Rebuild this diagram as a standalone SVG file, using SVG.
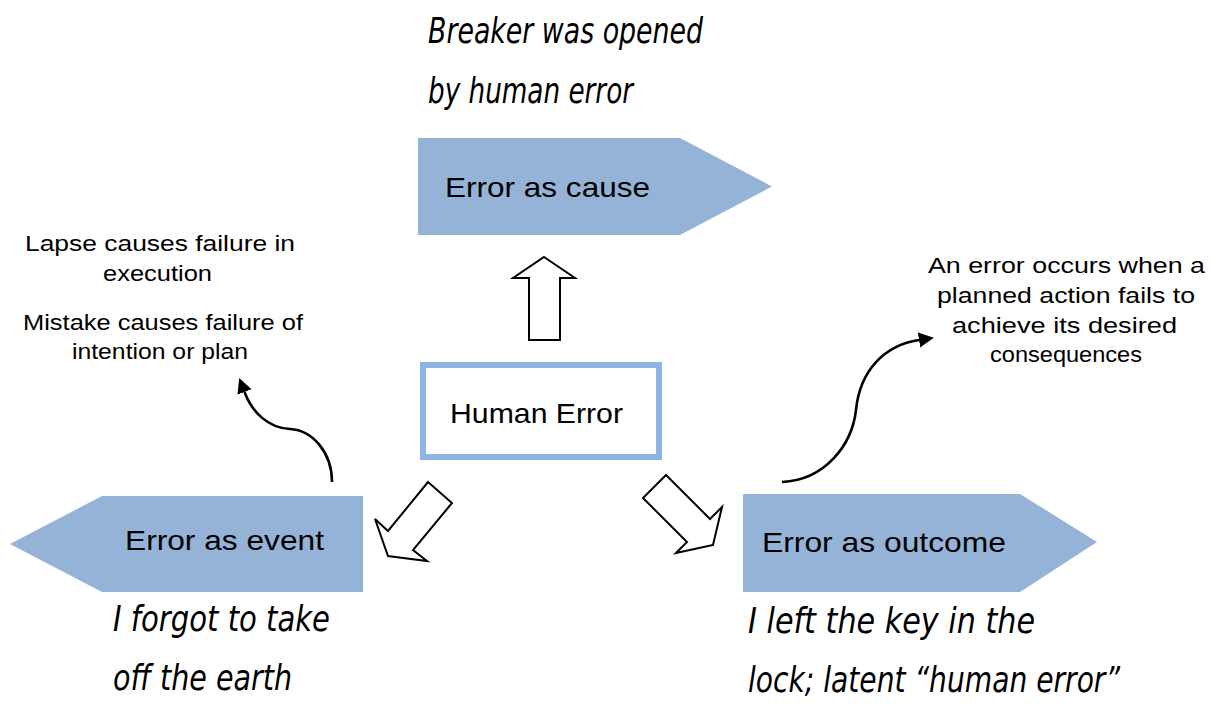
<svg xmlns="http://www.w3.org/2000/svg" width="1218" height="709" viewBox="0 0 1218 709">
  <style>
    .shape { fill: #95B3D7; stroke: none; }
    .label { font-family: "Liberation Sans", Arial, sans-serif; font-size: 28.5px; fill: #000; }
    .note { font-family: "Liberation Sans", Arial, sans-serif; font-size: 22px; fill: #000; }
    .hand { font-family: "DejaVu Sans", sans-serif; font-weight: 200; font-style: italic; font-size: 35px; fill: #000; }
    .block { fill: #fff; stroke: #000; stroke-width: 2; stroke-linejoin: miter; }
    .curve { fill: none; stroke: #000; stroke-width: 2.6; }
  </style>
  <defs>
    <marker id="head" markerUnits="userSpaceOnUse" markerWidth="16" markerHeight="16" refX="0" refY="7.5" orient="auto">
      <path d="M0,0 L15,7.5 L0,15 Z" fill="#000"/>
    </marker>
  </defs>
  <rect width="1218" height="709" fill="#fff"/>

  <!-- Central concept -->
  <g id="human-error">
    <rect x="423" y="365" width="236" height="92" fill="#fff" stroke="#8EB4E3" stroke-width="6"/>
    <text class="label" x="450" y="423" textLength="173" lengthAdjust="spacingAndGlyphs">Human Error</text>
  </g>

  <!-- Three perspectives -->
  <g id="error-as-cause">
    <polygon class="shape" points="418,138 680,138 772,186.5 680,235 418,235"/>
    <text class="label" x="445" y="197" textLength="205" lengthAdjust="spacingAndGlyphs">Error as cause</text>
  </g>
  <g id="error-as-event">
    <polygon class="shape" points="363,496 102,496 10,544 102,592 363,592"/>
    <text class="label" x="125" y="550" textLength="199" lengthAdjust="spacingAndGlyphs">Error as event</text>
  </g>
  <g id="error-as-outcome">
    <polygon class="shape" points="743,494 1020,494 1097,542 1020,592 743,592"/>
    <text class="label" x="762" y="552" textLength="244" lengthAdjust="spacingAndGlyphs">Error as outcome</text>
  </g>

  <!-- Explanatory notes -->
  <g id="note-lapse-mistake">
    <text class="note" x="25" y="251" textLength="270" lengthAdjust="spacingAndGlyphs">Lapse causes failure in</text>
    <text class="note" x="103" y="281" textLength="109" lengthAdjust="spacingAndGlyphs">execution</text>
    <text class="note" x="23" y="330" textLength="280" lengthAdjust="spacingAndGlyphs">Mistake causes failure of</text>
    <text class="note" x="72" y="359" textLength="176" lengthAdjust="spacingAndGlyphs">intention or plan</text>
  </g>
  <g id="note-definition">
    <text class="note" x="928" y="273" textLength="277" lengthAdjust="spacingAndGlyphs">An error occurs when a</text>
    <text class="note" x="937" y="303" textLength="258" lengthAdjust="spacingAndGlyphs">planned action fails to</text>
    <text class="note" x="952" y="333" textLength="225" lengthAdjust="spacingAndGlyphs">achieve its desired</text>
    <text class="note" x="990" y="362" textLength="152" lengthAdjust="spacingAndGlyphs">consequences</text>
  </g>

  <!-- Handwritten examples -->
  <g id="example-cause">
    <text class="hand" x="428" y="43" textLength="275" lengthAdjust="spacingAndGlyphs">Breaker was opened</text>
    <text class="hand" x="428" y="103" textLength="205" lengthAdjust="spacingAndGlyphs">by human error</text>
  </g>
  <g id="example-event">
    <text class="hand" x="113" y="631" textLength="217" lengthAdjust="spacingAndGlyphs">I forgot to take</text>
    <text class="hand" x="113" y="690" textLength="179" lengthAdjust="spacingAndGlyphs">off the earth</text>
  </g>
  <g id="example-outcome">
    <text class="hand" x="748" y="633" textLength="287" lengthAdjust="spacingAndGlyphs">I left the key in the</text>
    <text class="hand" x="748" y="692" textLength="372" lengthAdjust="spacingAndGlyphs">lock; latent “human error”</text>
  </g>

  <!-- Connectors -->
  <g id="connectors">
    <polygon class="block" points="544,257 575,278 560,278 560,340 529,340 529,278 513,278"/>
    <polygon class="block" points="428,482 452,503 413,550 427,561 388,556 375,519 388,531"/>
    <polygon class="block" points="666,475 710,519 722,507 713,545 676,553 687,542 643,498"/>
    <path class="curve" d="M332,482 C332,452 312,430 290,429 C268,428 252,412 244.5,392" marker-end="url(#head)"/>
    <path class="curve" d="M782,482 C825,480 852,445 856,410 C860,370 885,345 919,340" marker-end="url(#head)"/>
  </g>
</svg>
